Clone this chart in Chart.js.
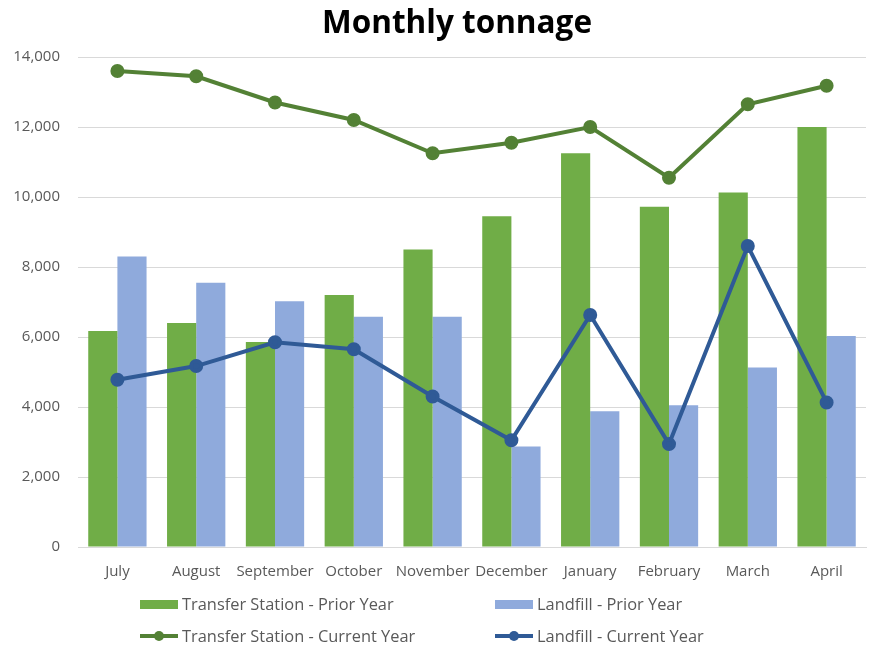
<!DOCTYPE html>
<html><head><meta charset="utf-8">
<script src="https://cdn.jsdelivr.net/npm/chart.js@4"></script>
<style>
html,body{margin:0;padding:0;background:#fff;overflow:hidden;}
#wrap{position:relative;width:869px;height:649px;overflow:hidden;}
#c{position:absolute;left:0;top:0;}
#title{position:absolute;left:0;width:914px;top:-1px;text-align:center;font:bold 31.5px "Open Sans","Noto Sans",sans-serif;color:#000;}
.lg{position:absolute;font:16.4px "Open Sans","Noto Sans",sans-serif;color:#595959;white-space:nowrap;line-height:20px;}
.sw{display:inline-block;vertical-align:middle;position:relative;width:38px;height:20px;margin-right:4px;}
</style></head>
<body>
<div id="wrap">
<canvas id="c" width="875" height="649"></canvas>
<div id="title">Monthly tonnage</div>
<div id="legend"></div>
</div>
<script>
const categories = ["July","August","September","October","November","December","January","February","March","April"];
const transferPrior = [6170,6400,5860,7200,8500,9450,11250,9720,10130,12000];
const landfillPrior = [8300,7550,7020,6580,6580,2870,3880,4050,5130,6030];
const transferCurrent = [13600,13450,12700,12200,11250,11550,12000,10550,12650,13180];
const landfillCurrent = [4780,5170,5850,5650,4300,3050,6630,2940,8600,4130];
const seriesNames = ["Transfer Station - Prior Year","Landfill - Prior Year","Transfer Station - Current Year","Landfill - Current Year"];

const C = {tp:"#70AD47", lp:"#8FAADC", tc:"#538135", lc:"#2F5A96"};

new Chart(document.getElementById('c'), {
  data: {
    labels: categories,
    datasets: [
      {type:'line', label:seriesNames[2], data:transferCurrent, borderColor:C.tc, backgroundColor:C.tc, borderWidth:4, pointRadius:5, pointHoverRadius:5, order:0},
      {type:'line', label:seriesNames[3], data:landfillCurrent, borderColor:C.lc, backgroundColor:C.lc, borderWidth:4, pointRadius:5, pointHoverRadius:5, order:0},
      {type:'bar', label:seriesNames[0], data:transferPrior, backgroundColor:C.tp, order:1, categoryPercentage:0.74, barPercentage:1},
      {type:'bar', label:seriesNames[1], data:landfillPrior, backgroundColor:C.lp, order:1, categoryPercentage:0.74, barPercentage:1}
    ]
  },
  options: {
    responsive:false, animation:false,
    layout:{padding:{top:57,right:4,left:0,bottom:0}},
    plugins:{legend:{display:false}, title:{display:false}, tooltip:{enabled:false}},
    scales:{
      x:{
        grid:{display:false, drawTicks:false},
        border:{display:true, color:"#d9d9d9", width:1},
        ticks:{color:"#595959", font:{family:"Open Sans", size:15}, padding:16, maxRotation:0, autoSkip:false},
        afterFit:(s)=>{s.height=102; s.paddingLeft=0; s.paddingRight=0;}
      },
      y:{
        min:0, max:14000,
        grid:{color:"#d9d9d9", drawTicks:false, lineWidth:1},
        border:{display:false},
        ticks:{stepSize:2000, color:"#595959", font:{family:"Open Sans", size:15}, padding:18,
          callback:(v)=>v.toLocaleString('en-US')},
        afterFit:(s)=>{s.width=78;}
      }
    }
  }
});

// HTML legend
const lg = document.getElementById('legend');
const items = [
  {name:seriesNames[0], color:C.tp, kind:'bar', x:140, y:592},
  {name:seriesNames[1], color:C.lp, kind:'bar', x:495, y:592},
  {name:seriesNames[2], color:C.tc, kind:'line', x:140, y:624},
  {name:seriesNames[3], color:C.lc, kind:'line', x:495, y:624}
];
items.forEach(it=>{
  const d=document.createElement('div'); d.className='lg';
  d.style.left=it.x+'px'; d.style.top=it.y+'px';
  const sw=document.createElement('span'); sw.className='sw';
  if(it.kind==='bar'){
    sw.innerHTML='<span style="position:absolute;left:0;top:6px;width:38px;height:9px;background:'+it.color+'"></span>';
  } else {
    sw.innerHTML='<span style="position:absolute;left:0;top:8px;width:38px;height:4px;background:'+it.color+'"></span><span style="position:absolute;left:14px;top:5px;width:10px;height:10px;border-radius:50%;background:'+it.color+'"></span>';
  }
  d.appendChild(sw);
  const t=document.createElement('span'); t.textContent=it.name; t.style.verticalAlign='middle';
  d.appendChild(t);
  lg.appendChild(d);
});
</script>
</body></html>
